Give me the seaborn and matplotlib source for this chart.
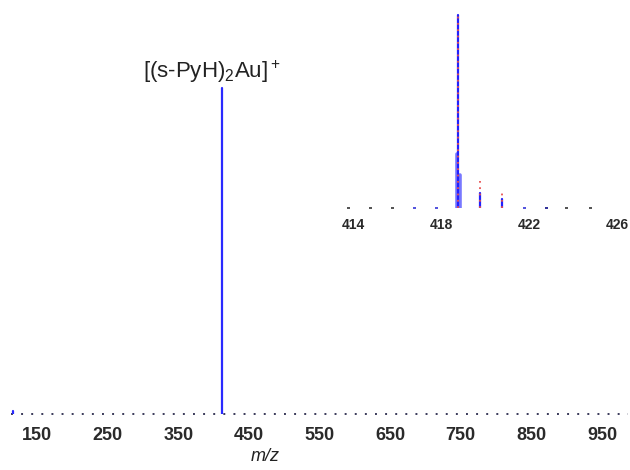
import numpy as np
import pandas as pd
import seaborn as sns
import matplotlib
matplotlib.use("Agg")
import matplotlib.pyplot as plt

# full spectrum (stick data)
full_mz = [116, 412]
full_int = [0.01, 1.0]
full_ticks = [150, 250, 350, 450, 550, 650, 750, 850, 950]

# isotope pattern, inset
exp_mz = [418.76, 419.77, 420.77]
exp_int = [1.0, 0.08, 0.045]
shoulder_mz = [418.71, 418.84]
shoulder_int = [0.28, 0.17]
theo_mz = [418.76, 419.77, 420.77]
theo_int = [1.0, 0.14, 0.085]
noise_mz = [413.8, 414.8, 415.8, 416.8, 417.8, 421.8, 422.8, 423.7, 424.8]
noise_col = ['#555555', '#555555', '#555555', '#5555dd', '#5555dd', '#5555dd', '#333399', '#555555', '#555555']
inset_ticks = [414, 418, 422, 426]

label_text = r'[(s-PyH)$_2$Au]$^+$'

sns.set_style("white")
plt.rcParams['font.family'] = ['Liberation Sans', 'DejaVu Sans']
plt.rcParams['mathtext.fontset'] = 'custom'
plt.rcParams['mathtext.rm'] = 'Liberation Sans'
plt.rcParams['mathtext.it'] = 'Liberation Sans:italic'


def sticks(mz, inten):
    # turn peak list into vertical sticks, one unit per peak
    xs, ys, u = [], [], []
    for k, (m, h) in enumerate(zip(mz, inten)):
        xs += [m, m]
        ys += [0, h]
        u += [k, k]
    return pd.DataFrame({'mz': xs, 'i': ys, 'peak': u})


def draw(ax, mz, inten, **kw):
    sns.lineplot(data=sticks(mz, inten), x='mz', y='i', units='peak', sort=False,
                 estimator=None, ax=ax, **kw)


fig = plt.figure(figsize=(6.3, 4.7), dpi=100)

# ---- main spectrum
ax = fig.add_axes([11 / 630, 56 / 470, 617 / 630, 404 / 470])
draw(ax, full_mz, full_int, color='#2a2aff', lw=1.6)
ax.axhline(0, color='#3a3a5a', lw=1.4, ls=(0, (1, 4.2)), clip_on=False, zorder=1)
ax.set_xlim(113.2, 986.8)
ax.set_ylim(0, 1.239)
ax.set_xticks(full_ticks)
ax.set_xticklabels([str(t) for t in full_ticks], fontsize=13, fontweight='bold', color='#2a2a2a')
ax.tick_params(axis='x', length=0, pad=9)
ax.set_yticks([])
ax.set_ylabel('')
ax.set_xlabel('m/z', fontsize=13, style='italic', color='#222222')
ax.xaxis.set_label_coords((265 - 11) / 617, -0.085)
sns.despine(ax=ax, left=True, bottom=True)
ax.text(397, 1.05, label_text, ha='center', va='center', fontsize=16, color='#222222')

# ---- inset: isotope pattern
axi = fig.add_axes([340 / 630, 262 / 470, 285 / 630, 198 / 470])
axi.patch.set_alpha(0)
draw(axi, shoulder_mz, shoulder_int, color='#7878ff', lw=2.6)
draw(axi, exp_mz, exp_int, color='#2020ff', lw=1.6)
draw(axi, theo_mz, theo_int, color='#e85050', lw=1.3, ls=(0, (1, 2.5)))
sns.scatterplot(x=noise_mz, y=[0] * len(noise_mz), color=noise_col, marker='s', s=4,
                linewidth=0, ax=axi, clip_on=False)
axi.set_xlim(413.41, 426.36)
axi.set_ylim(0, 1.026)
axi.set_xticks(inset_ticks)
axi.set_xticklabels([str(t) for t in inset_ticks], fontsize=10, fontweight='bold', color='#2a2a2a')
axi.tick_params(axis='x', length=0, pad=7)
axi.set_yticks([])
axi.set_xlabel('')
axi.set_ylabel('')
sns.despine(ax=axi, left=True, bottom=True)

fig.savefig('out.png', dpi=100)
